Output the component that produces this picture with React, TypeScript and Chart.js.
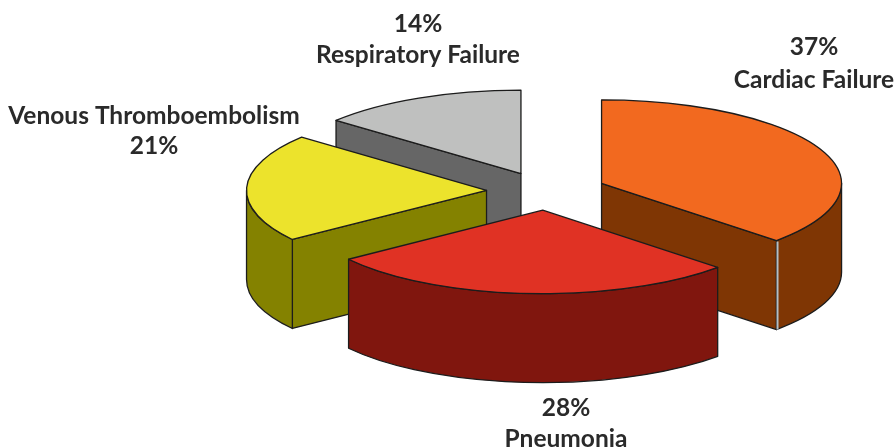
import React, { useEffect, useRef } from "react";
import { Chart, registerables } from "chart.js";

Chart.register(...registerables);

const categories = ["Cardiac Failure", "Pneumonia", "Venous Thromboembolism", "Respiratory Failure"];
const shares = [37, 28, 21, 14];
const topColors = ["#f2691f", "#e03224", "#ece32c", "#bfc0bf"];
const wallColors = ["#7f3604", "#80160e", "#848200", "#666666"];
const outline = "#1c1c1c";

const WIDTH = 895;
const HEIGHT = 448;
const RX = 240;
const RY = 83.5;
const DEPTH = 89;
const EXPLODE_X = 0.25;
const EXPLODE_Y = 0.23;

// label anchor: centre x, y of first line, y of second line, percent first?
const labelLayout = [
  { x: 814, y1: 47, y2: 80, pctFirst: true },
  { x: 566, y1: 408, y2: 439, pctFirst: true },
  { x: 154, y1: 116, y2: 146, pctFirst: false },
  { x: 418, y1: 24, y2: 55, pctFirst: true },
];

const pie3d = {
  id: "pie3d",
  beforeDatasetDraw(chart: any) {
    const ctx: CanvasRenderingContext2D = chart.ctx;
    const arcs = chart.getDatasetMeta(0).data as any[];
    const order = arcs
      .map((a, i) => ({ a, i, s: Math.sin((a.startAngle + a.endAngle) / 2) }))
      .sort((p, q) => p.s - q.s);

    for (const { a, i } of order) {
      const sx = RX / a.outerRadius;
      const sy = RY / a.outerRadius;
      const mid = (a.startAngle + a.endAngle) / 2;
      const ox = a.x + RX * EXPLODE_X * Math.cos(mid);
      const oy = a.y + RY * EXPLODE_Y * Math.sin(mid);
      const pt = (ang: number) => ({
        x: ox + a.outerRadius * sx * Math.cos(ang),
        y: oy + a.outerRadius * sy * Math.sin(ang),
      });
      const style = (fill: string) => {
        ctx.fillStyle = fill;
        ctx.strokeStyle = outline;
        ctx.lineWidth = 1.3;
        ctx.lineJoin = "round";
        ctx.fill();
        ctx.stroke();
      };
      const face = (ang: number) => {
        const p = pt(ang);
        ctx.beginPath();
        ctx.moveTo(ox, oy);
        ctx.lineTo(p.x, p.y);
        ctx.lineTo(p.x, p.y + DEPTH);
        ctx.lineTo(ox, oy + DEPTH);
        ctx.closePath();
        style(wallColors[i]);
      };
      // cut faces that look toward the viewer
      if (Math.cos(a.startAngle) < -1e-6) face(a.startAngle);
      if (Math.cos(a.endAngle) > 1e-6) face(a.endAngle);

      // curved outer wall: the part of the rim in the front half of the ellipse
      const twoPi = Math.PI * 2;
      for (let k = -1; k <= 1; k++) {
        const from = Math.max(a.startAngle, k * twoPi);
        const to = Math.min(a.endAngle, k * twoPi + Math.PI);
        if (to > from) {
          ctx.beginPath();
          ctx.ellipse(ox, oy, RX, RY, 0, from, to);
          ctx.ellipse(ox, oy + DEPTH, RX, RY, 0, to, from, true);
          ctx.closePath();
          style(wallColors[i]);
        }
      }

      // light highlight along the front corner of the largest slice
      if (i === 0) {
        const p = pt(a.endAngle);
        ctx.beginPath();
        ctx.moveTo(p.x + 1, p.y + 1);
        ctx.lineTo(p.x + 1, p.y + DEPTH);
        ctx.strokeStyle = "#b4bec4";
        ctx.lineWidth = 2;
        ctx.stroke();
      }

      // top face
      ctx.beginPath();
      ctx.moveTo(ox, oy);
      ctx.ellipse(ox, oy, RX, RY, 0, a.startAngle, a.endAngle);
      ctx.closePath();
      style(topColors[i]);
    }
    return false;
  },
  afterDraw(chart: any) {
    const ctx: CanvasRenderingContext2D = chart.ctx;
    ctx.save();
    ctx.font = 'bold 24.5px Lato, "Open Sans", sans-serif';
    ctx.fillStyle = "#2a2a2a";
    ctx.textAlign = "center";
    ctx.textBaseline = "middle";
    (ctx as any).filter = "blur(0.4px)";
    categories.forEach((name, i) => {
      const l = labelLayout[i];
      const pct = `${shares[i]}%`;
      ctx.fillText(l.pctFirst ? pct : name, l.x, l.y1);
      ctx.fillText(l.pctFirst ? name : pct, l.x, l.y2);
    });
    ctx.restore();
  },
};

export default function App() {
  const ref = useRef<HTMLCanvasElement>(null);
  useEffect(() => {
    const chart = new Chart(ref.current as HTMLCanvasElement, {
      type: "pie",
      data: {
        labels: categories,
        datasets: [{ data: shares, backgroundColor: topColors, borderWidth: 0 }],
      },
      options: {
        animation: false,
        responsive: false,
        layout: { padding: { left: 198, right: 0, top: 0, bottom: 66 } },
        plugins: { legend: { display: false }, tooltip: { enabled: false } },
      },
      plugins: [pie3d],
    } as any);
    return () => chart.destroy();
  }, []);
  return (
    <div style={{ position: "fixed", left: 0, top: 0, width: WIDTH, height: HEIGHT, background: "#fff" }}>
      <canvas ref={ref} width={WIDTH} height={HEIGHT} style={{ display: "block" }} />
    </div>
  );
}
